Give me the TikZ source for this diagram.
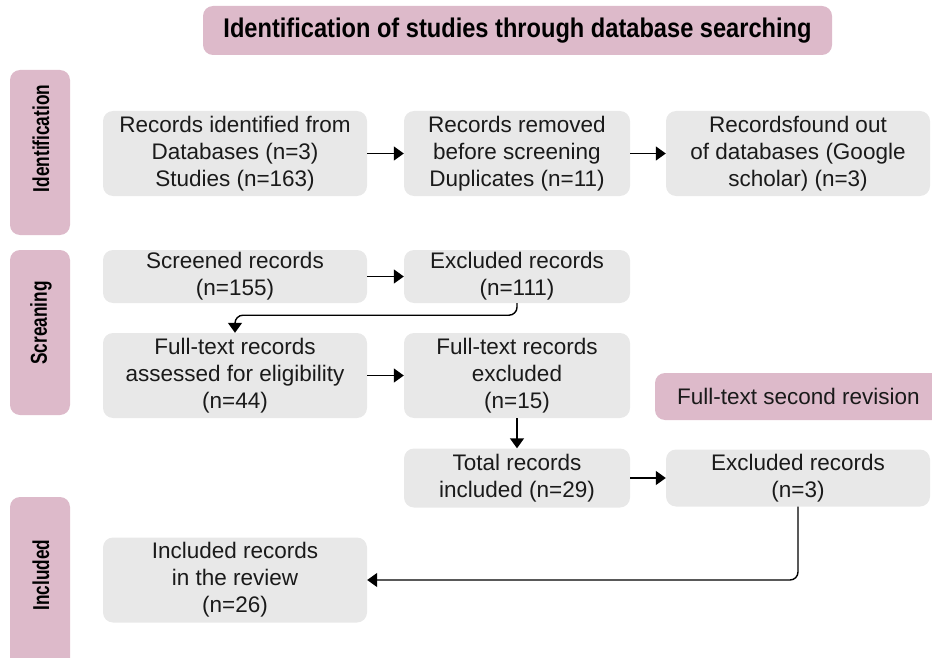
\documentclass[tikz,border=0pt]{standalone}
\usepackage{graphicx}
\usepackage{fontspec}
\setmainfont{Liberation Sans}
\usetikzlibrary{arrows.meta}
\definecolor{boxgray}{HTML}{E8E8E8}
\definecolor{boxpink}{HTML}{DDBACA}
\definecolor{txt}{HTML}{1A1A1A}
\newcommand{\narrow}[2]{\scalebox{#1}[1]{#2}}
\begin{document}
\begin{tikzpicture}[x=1pt,y=-1pt,
  gbox/.style={fill=boxgray, rounded corners=10pt, inner sep=0pt, align=center,
    text=txt, font=\fontsize{22.5}{27}\selectfont},
  pbox/.style={fill=boxpink, rounded corners=10pt, inner sep=0pt, align=center,
    text=txt, font=\fontsize{22.5}{27}\selectfont},
  sidelabel/.style={rotate=90, inner sep=0pt, text=black, font=\fontsize{23}{26}\selectfont\bfseries},
  conn/.style={line width=1.4pt, draw=black, -{Triangle[length=10pt,width=14pt]}, rounded corners=8pt}]
\useasboundingbox (0,0) rectangle (932,658);
\clip (0,0) rectangle (932,658);

% title
\node[pbox, minimum width=629pt, minimum height=49pt,
  font=\fontsize{27}{30}\selectfont\bfseries, text=black] (title) at (517.5,30.5)
  {\narrow{0.875}{Identification of studies through database searching}};

% side boxes
\node[pbox, minimum width=60pt, minimum height=165pt] (sid) at (40,152.5) {};
\node[sidelabel] (sidt) at (41,138.5) {\narrow{0.75}{Identification}};
\node[pbox, minimum width=60pt, minimum height=165pt] (sscr) at (40,332.5) {};
\node[sidelabel] (sscrt) at (41,323) {\narrow{0.75}{Screaning}};
\node[pbox, minimum width=60pt, minimum height=175pt] (sinc) at (40,584.5) {};
\node[sidelabel] (sinct) at (41,575) {\narrow{0.75}{Included}};

% row 1
\node[gbox, minimum width=264pt, minimum height=85pt] (a) at (235,153.5)
  {Records identified from\\Databases (n=3)\\Studies (n=163)};
\node[gbox, minimum width=226pt, minimum height=85pt] (b) at (517,153.5)
  {Records removed\\before screening\\Duplicates (n=11)};
\node[gbox, minimum width=264pt, minimum height=85pt] (c) at (798,153.5)
  {Recordsfound out\\of databases (Google\\scholar) (n=3)};

% row 2
\node[gbox, minimum width=264pt, minimum height=53pt] (scr) at (235,276.5)
  {Screened records\\(n=155)};
\node[gbox, minimum width=226pt, minimum height=53pt] (exa) at (517,276.5)
  {Excluded records\\(n=111)};

% row 3
\node[gbox, minimum width=264pt, minimum height=85pt] (ft) at (235,375.5)
  {Full-text records\\assessed for eligibility\\(n=44)};
\node[gbox, minimum width=226pt, minimum height=85pt] (fte) at (517,375.5)
  {Full-text records\\excluded\\(n=15)};
\node[pbox, minimum width=287pt, minimum height=47pt] (rev) at (798.5,396.5)
  {Full-text second revision};

% row 4
\node[gbox, minimum width=226pt, minimum height=59pt] (tot) at (517,478)
  {Total records\\included (n=29)};
\node[gbox, minimum width=264pt, minimum height=57pt] (exb) at (798,478)
  {Excluded records\\(n=3)};

% row 5
\node[gbox, minimum width=264pt, minimum height=85pt] (inc) at (235,580)
  {Included records\\in the review\\(n=26)};

% connectors
\draw[conn] (a.east) -- (b.west);
\draw[conn] (b.east) -- (c.west);
\draw[conn] (scr.east) -- (exa.west);
\draw[conn] (exa.south) -- ++(0,12) -| (ft.north);
\draw[conn] (ft.east) -- (fte.west);
\draw[conn] (fte.south) -- (tot.north);
\draw[conn] (tot.east) -- (exb.west);
\draw[conn] (exb.south) |- (inc.east);
\end{tikzpicture}
\end{document}
